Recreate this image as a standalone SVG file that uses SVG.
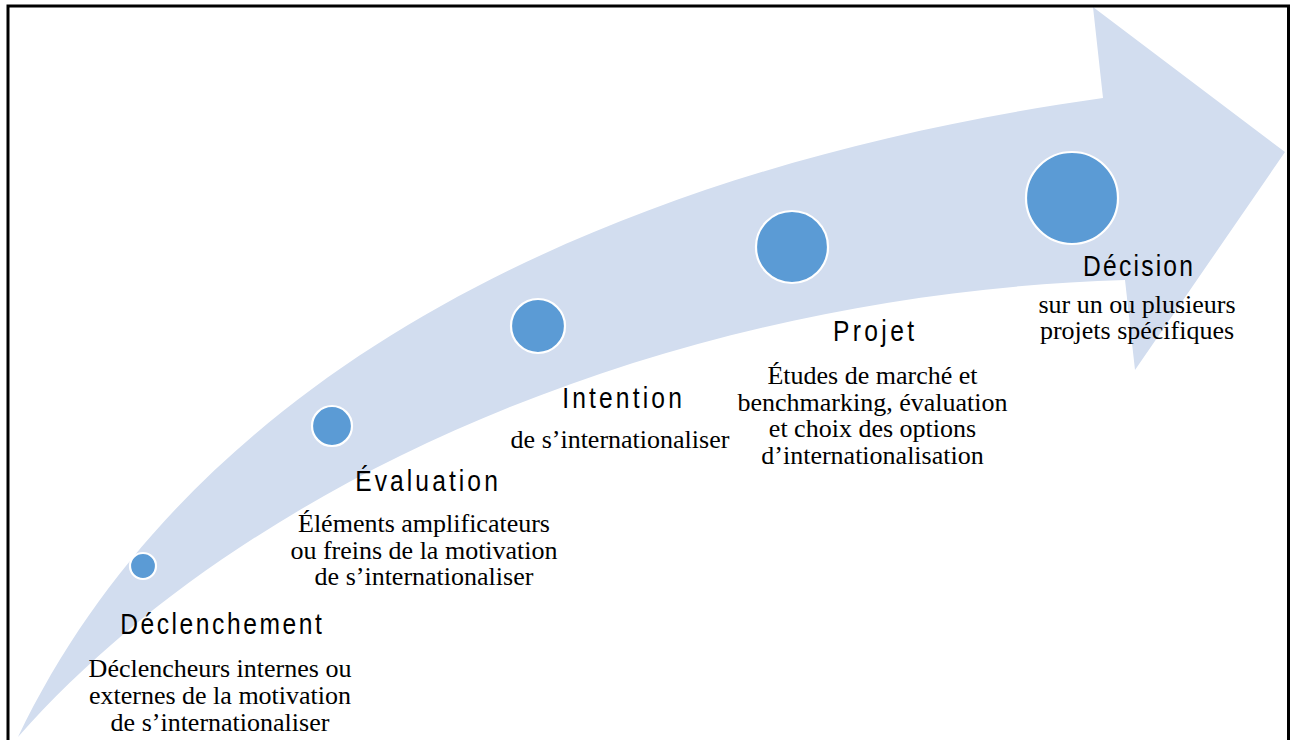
<svg xmlns="http://www.w3.org/2000/svg" width="1293" height="740" viewBox="0 0 1293 740">
<style>
.dot{fill:#5b9bd5;stroke:#ffffff;stroke-width:2.2}
.ttl{font-family:"Liberation Sans",Arial,sans-serif;font-size:30px;fill:#000;text-anchor:middle}
.desc{font-family:"Liberation Serif","Times New Roman",serif;font-size:26px;fill:#000;text-anchor:middle}
</style>
<rect x="0" y="0" width="1293" height="740" fill="#ffffff"/>
<g id="arrow">
<path d="M18,737 C199,359 628,165 1103,98 L1093,7 L1285,152 L1135,370 L1125,280 C675,293.5 250,475 18,737 Z" fill="#d2ddef"/>
</g>
<rect x="8" y="6" width="1280.5" height="760" fill="none" stroke="#000" stroke-width="3"/>
<g id="declenchement">
<circle class="dot" cx="143" cy="566" r="13"/>
<text class="ttl" transform="translate(221,634) scale(0.82,1)" textLength="246" lengthAdjust="spacing">Déclenchement</text>
<text class="desc" x="220" y="677">Déclencheurs internes ou</text>
<text class="desc" x="220" y="704">externes de la motivation</text>
<text class="desc" x="220" y="731">de s’internationaliser</text>
</g>
<g id="evaluation">
<circle class="dot" cx="332" cy="426" r="20"/>
<text class="ttl" transform="translate(426.5,491) scale(0.82,1)" textLength="174" lengthAdjust="spacing">Évaluation</text>
<text class="desc" x="424" y="532">Éléments amplificateurs</text>
<text class="desc" x="424" y="558.5">ou freins de la motivation</text>
<text class="desc" x="424" y="585">de s’internationaliser</text>
</g>
<g id="intention">
<circle class="dot" cx="538" cy="326" r="27"/>
<text class="ttl" transform="translate(622,408) scale(0.82,1)" textLength="146" lengthAdjust="spacing">Intention</text>
<text class="desc" x="620" y="448">de s’internationaliser</text>
</g>
<g id="projet">
<circle class="dot" cx="792" cy="247" r="36"/>
<text class="ttl" transform="translate(873.5,341) scale(0.82,1)" textLength="99" lengthAdjust="spacing">Projet</text>
<text class="desc" x="872.5" y="384">Études de marché et</text>
<text class="desc" x="872.5" y="411">benchmarking, évaluation</text>
<text class="desc" x="872.5" y="437">et choix des options</text>
<text class="desc" x="872.5" y="464">d’internationalisation</text>
</g>
<g id="decision">
<circle class="dot" cx="1072" cy="198" r="46"/>
<text class="ttl" transform="translate(1138,276) scale(0.82,1)" textLength="134" lengthAdjust="spacing">Décision</text>
<text class="desc" x="1137" y="313">sur un ou plusieurs</text>
<text class="desc" x="1137" y="339">projets spécifiques</text>
</g>
</svg>
